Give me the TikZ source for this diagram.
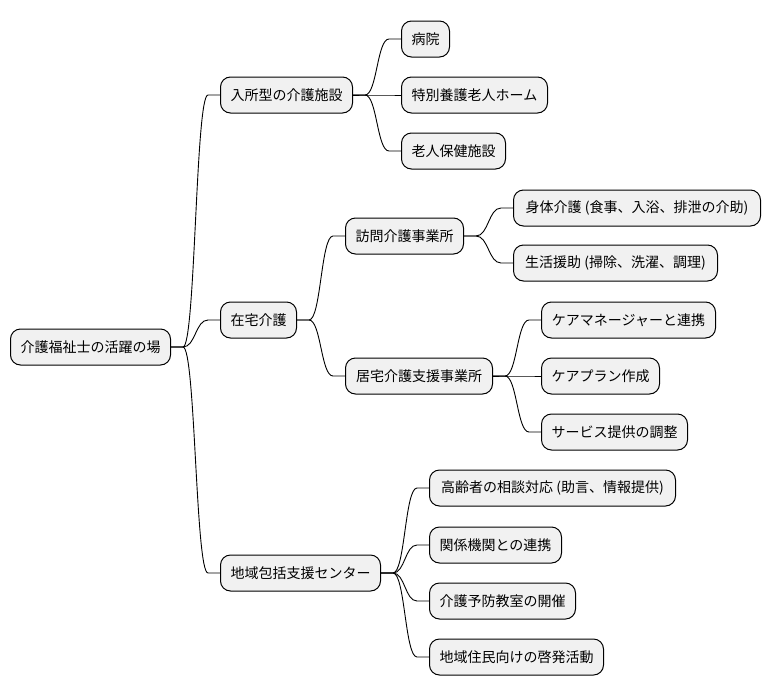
\documentclass[tikz,border=0pt]{standalone}
\usepackage{fontspec}
\setmainfont{Noto Sans CJK JP}
\usetikzlibrary{calc}
\definecolor{boxfill}{HTML}{F1F1F1}
\tikzset{
  mbox/.style={draw=black, line width=1pt, fill=boxfill, rounded corners=10pt,
    anchor=west, minimum height=36pt, inner xsep=4pt, inner ysep=0pt,
    font=\fontsize{14}{17}\selectfont, text=black},
  conn/.style={draw=black, line width=0.9pt}
}
\newcommand\myconn[2]{%
  \path (#1.east) ++(12pt,0) coordinate (cs);
  \path (#2.west) ++(-12pt,0) coordinate (ct);
  \path ($(cs)!0.5!(ct)$) coordinate (cm);
  \draw[conn] (#1.east) -- (cs) .. controls (cm |- cs) and (cm |- ct) .. (ct) -- (#2.west);
}
\begin{document}
\begin{tikzpicture}[x=1pt,y=-1pt]
\useasboundingbox (0,0) rectangle (770,696);
\node[mbox, minimum width=160pt] (root) at (10,347) {介護福祉士の活躍の場};
\node[mbox, minimum width=132pt] (a) at (220,95) {入所型の介護施設};
\node[mbox, minimum width=76pt] (b) at (220,320) {在宅介護};
\node[mbox, minimum width=160pt] (c) at (220,573) {地域包括支援センター};

\node[mbox, minimum width=48pt] (a1) at (401,39) {病院};
\node[mbox, minimum width=146pt] (a2) at (401,95) {特別養護老人ホーム};
\node[mbox, minimum width=104pt] (a3) at (401,151) {老人保健施設};

\node[mbox, minimum width=118pt] (b1) at (345,236) {訪問介護事業所};
\node[mbox, minimum width=147pt] (b2) at (345,376) {居宅介護支援事業所};

\node[mbox, minimum width=247pt] (b11) at (513,208) {身体介護 (食事、入浴、排泄の介助)};
\node[mbox, minimum width=204pt] (b12) at (513,263) {生活援助 (掃除、洗濯、調理)};

\node[mbox, minimum width=174pt] (b21) at (541,320) {ケアマネージャーと連携};
\node[mbox, minimum width=118pt] (b22) at (541,376) {ケアプラン作成};
\node[mbox, minimum width=146pt] (b23) at (541,432) {サービス提供の調整};

\node[mbox, minimum width=246pt] (c1) at (429,488) {高齢者の相談対応 (助言、情報提供)};
\node[mbox, minimum width=132pt] (c2) at (429,545) {関係機関との連携};
\node[mbox, minimum width=146pt] (c3) at (429,601) {介護予防教室の開催};
\node[mbox, minimum width=174pt] (c4) at (429,657) {地域住民向けの啓発活動};

\myconn{root}{a}
\myconn{root}{b}
\myconn{root}{c}
\myconn{a}{a1}
\myconn{a}{a2}
\myconn{a}{a3}
\myconn{b}{b1}
\myconn{b}{b2}
\myconn{b1}{b11}
\myconn{b1}{b12}
\myconn{b2}{b21}
\myconn{b2}{b22}
\myconn{b2}{b23}
\myconn{c}{c1}
\myconn{c}{c2}
\myconn{c}{c3}
\myconn{c}{c4}
\end{tikzpicture}
\end{document}
